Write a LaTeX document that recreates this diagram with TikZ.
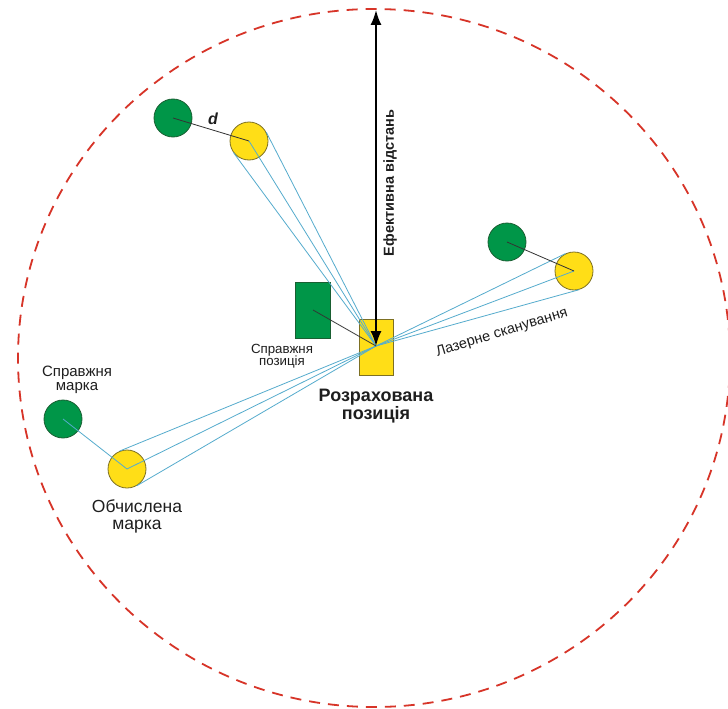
\documentclass[tikz,border=0pt]{standalone}
\usepackage{fontspec}
\setmainfont{Liberation Sans}
\usetikzlibrary{arrows.meta,calc}
\definecolor{mgreen}{RGB}{0,150,72}
\definecolor{mgreenD}{RGB}{25,95,50}
\definecolor{myellow}{RGB}{255,222,23}
\definecolor{myellowD}{RGB}{125,112,35}
\definecolor{mblue}{RGB}{85,172,205}
\definecolor{mred}{RGB}{215,52,40}
\definecolor{mtext}{RGB}{30,30,30}
\begin{document}
\begin{tikzpicture}[x=1pt,y=-1pt,
  truemark/.style={circle,fill=mgreen,draw=mgreenD,line width=0.8pt,minimum size=38pt,inner sep=0pt},
  calcmark/.style={circle,fill=myellow,draw=myellowD,line width=0.8pt,minimum size=38pt,inner sep=0pt},
  truepos/.style={rectangle,fill=mgreen,draw=mgreenD,line width=0.8pt,minimum width=35pt,minimum height=56pt,inner sep=0pt},
  calcpos/.style={rectangle,fill=myellow,draw=myellowD,line width=0.8pt,minimum width=34pt,minimum height=56pt,inner sep=0pt},
  scan/.style={mblue,line width=0.8pt},
  offset/.style={black!80,line width=0.8pt},
  rangeline/.style={mred,line width=1.8pt,dash pattern=on 11pt off 8pt},
  distarrow/.style={black,line width=1.8pt,{Latex[length=15pt,width=11pt]}-{Latex[length=15pt,width=11pt]}},
  lbl/.style={inner sep=0pt,align=center,text=mtext}]
\useasboundingbox (0,0) rectangle (728,709);
\fill[white] (0,0) rectangle (728,709);
% range circle
\draw[rangeline] (374,358) ellipse [x radius=356, y radius=349];
% marks
\node[truemark] (g1) at (173,118) {};
\node[calcmark] (y1) at (249,141) {};
\node[truemark] (g2) at (507,242) {};
\node[calcmark] (y2) at (574,271) {};
\node[truemark] (g3) at (63,419) {};
\node[calcmark] (y3) at (127,469) {};
% positions
\node[truepos] (tp) at (313,310) {};
\node[calcpos] (cp) at (376,347) {};
\coordinate (P) at (376,346);
\coordinate (top) at (376,10);
% scans
\foreach \n in {y1,y2,y3}{
  \draw[scan] (P) -- (\n.center);
  \draw[scan] (P) -- (tangent cs:node=\n,point={(P)},solution=1);
  \draw[scan] (P) -- (tangent cs:node=\n,point={(P)},solution=2);
}
% offsets
\draw[offset] (g1.center) -- (y1.center);
\draw[offset] (g2.center) -- (y2.center);
\draw[scan] (g3.center) -- (y3.center);
\draw[offset] (tp.center) -- (P);
% effective distance
\draw[distarrow] (top) -- (P);
% labels
\node[lbl,font=\fontsize{16}{18}\selectfont\bfseries\itshape] (dl) at (213,119) {d};
\node[lbl,rotate=90,font=\fontsize{14.5}{16}\selectfont\bfseries] (el) at (390,183) {Ефективна відстань};
\node[lbl,font=\fontsize{13.3}{12.5}\selectfont] (tpl) at (282,356) {Справжня\\позиція};
\node[lbl,font=\fontsize{18}{18}\selectfont\bfseries] (cpl) at (376,406) {Розрахована\\позиція};
\node[lbl,rotate=17,font=\fontsize{14.5}{16}\selectfont] (ll) at (502,333) {Лазерне сканування};
\node[lbl,font=\fontsize{15}{14}\selectfont] (tml) at (77,380) {Справжня\\марка};
\node[lbl,font=\fontsize{17.5}{17}\selectfont] (cml) at (137,516) {Обчислена\\марка};
\end{tikzpicture}
\end{document}
